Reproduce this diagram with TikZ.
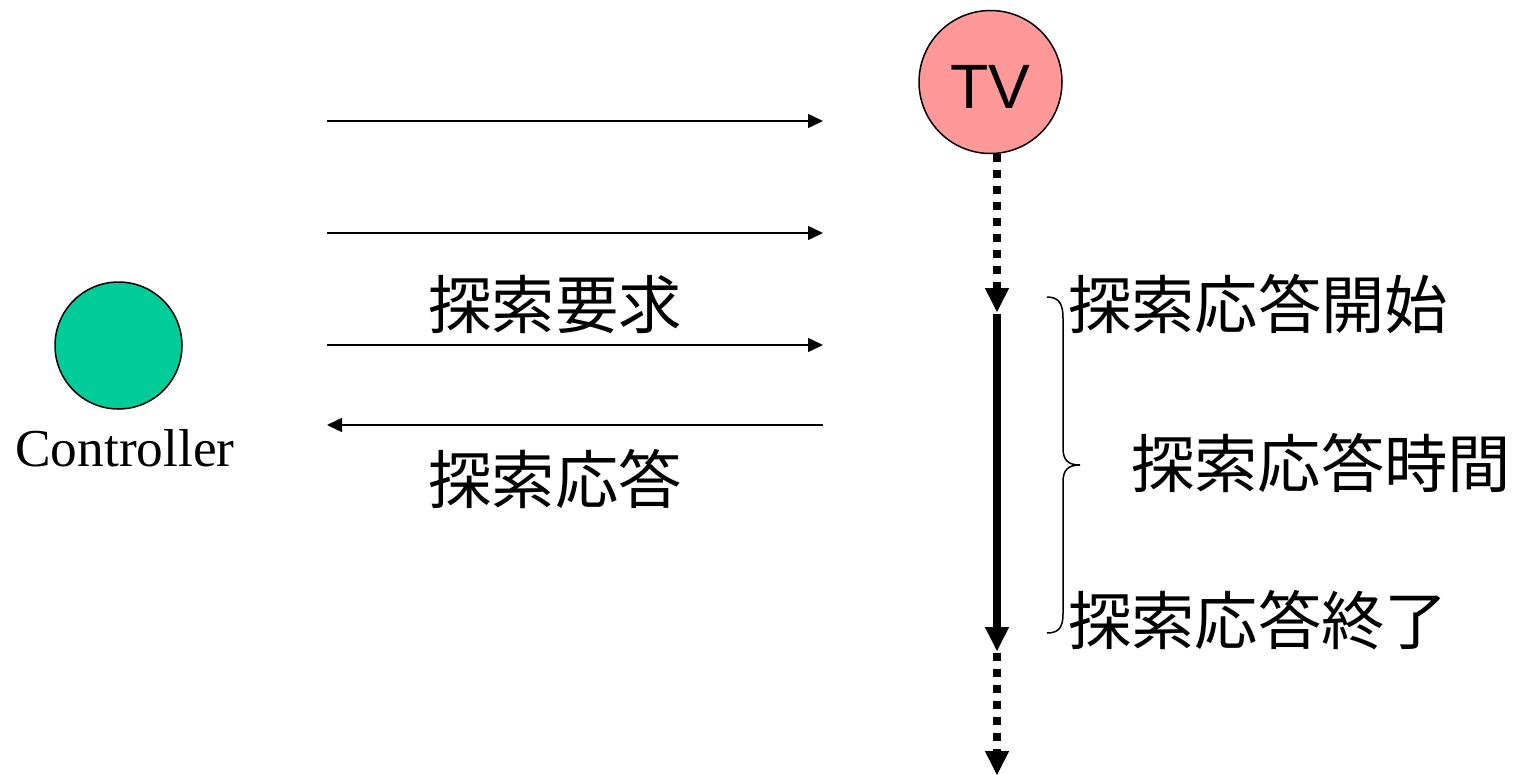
\documentclass[tikz,border=0pt]{standalone}
\usepackage{fontspec}
\setmainfont{Liberation Serif}
\newfontfamily\arialf{Liberation Sans}
\newfontfamily\cjk{Noto Sans CJK JP}
\usetikzlibrary{arrows.meta}
\definecolor{tvred}{HTML}{FF9999}
\definecolor{ctlgreen}{HTML}{00CC99}
\tikzset{
  msg/.style={line width=1.125pt,-{Triangle[length=11.25pt,width=10.5pt]}},
  jp/.style={font=\cjk\fontsize{47.5pt}{50pt}\selectfont,inner sep=0pt,anchor=base},
  dots/.style={line width=6pt,dash pattern=on 6pt off 6pt},
  thickline/.style={line width=6pt},
  vtip/.style={-{Triangle[length=18pt,width=18pt]}},
  party/.style={circle,draw,line width=1.125pt,inner sep=0pt}
}
\begin{document}
\begin{tikzpicture}[x=0.75pt,y=-0.75pt]
\useasboundingbox (0,0) rectangle (1522,775);
% parties
\node[party,fill=tvred,minimum size=107.25pt] (tv) at (990.5,82) {};
\node[font=\arialf\fontsize{47pt}{50pt}\selectfont,inner sep=0pt,anchor=base] (tvl) at (990.5,108) {TV};
\node[party,fill=ctlgreen,minimum size=95.25pt] (ctl) at (118.5,345.5) {};
\node[font=\fontsize{40pt}{44pt}\selectfont,inner sep=0pt,anchor=base] (ctll) at (125,466) {Controller};
% message arrows
\coordinate (a1s) at (327,121); \coordinate (a1e) at (823,121);
\coordinate (a2s) at (327,233); \coordinate (a2e) at (823,233);
\coordinate (a3s) at (327,345); \coordinate (a3e) at (823,345);
\coordinate (a4s) at (823,425); \coordinate (a4e) at (327,425);
\draw[msg] (a1s) -- (a1e);
\draw[msg] (a2s) -- (a2e);
\draw[msg] (a3s) -- (a3e);
\draw[msg] (a4s) -- (a4e);
\node[jp] (req) at (555,328) {探索要求};
\node[jp] (resp) at (555,503) {探索応答};
% time line
\coordinate (t0) at (997,154);
\coordinate (t1) at (997,312);
\coordinate (t2) at (997,314);
\coordinate (t3) at (997,651);
\coordinate (t4) at (997,653);
\coordinate (t5) at (997,775);
\draw[dots] (t0) -- (997,290);
\draw[vtip,line width=1.125pt] (997,289) -- (t1);
\draw[thickline] (t2) -- (997,628);
\draw[vtip,line width=1.125pt] (997,627) -- (t3);
\draw[dots] (t4) -- (997,752);
\draw[vtip,line width=1.125pt] (997,751) -- (t5);
% brace
\draw[line width=1.125pt] (1047,297) .. controls (1059,297) and (1063,304) .. (1063,318) -- (1063,448)
  .. controls (1063,460) and (1068,465) .. (1080,465)
  .. controls (1068,465) and (1063,470) .. (1063,482) -- (1063,614)
  .. controls (1063,627) and (1059,633) .. (1047,633);
\node[jp,anchor=base west] (st) at (1068,328) {探索応答開始};
\node[jp,anchor=base west] (du) at (1131,487) {探索応答時間};
\node[jp,anchor=base west] (en) at (1068,644) {探索応答終了};
\end{tikzpicture}
\end{document}
